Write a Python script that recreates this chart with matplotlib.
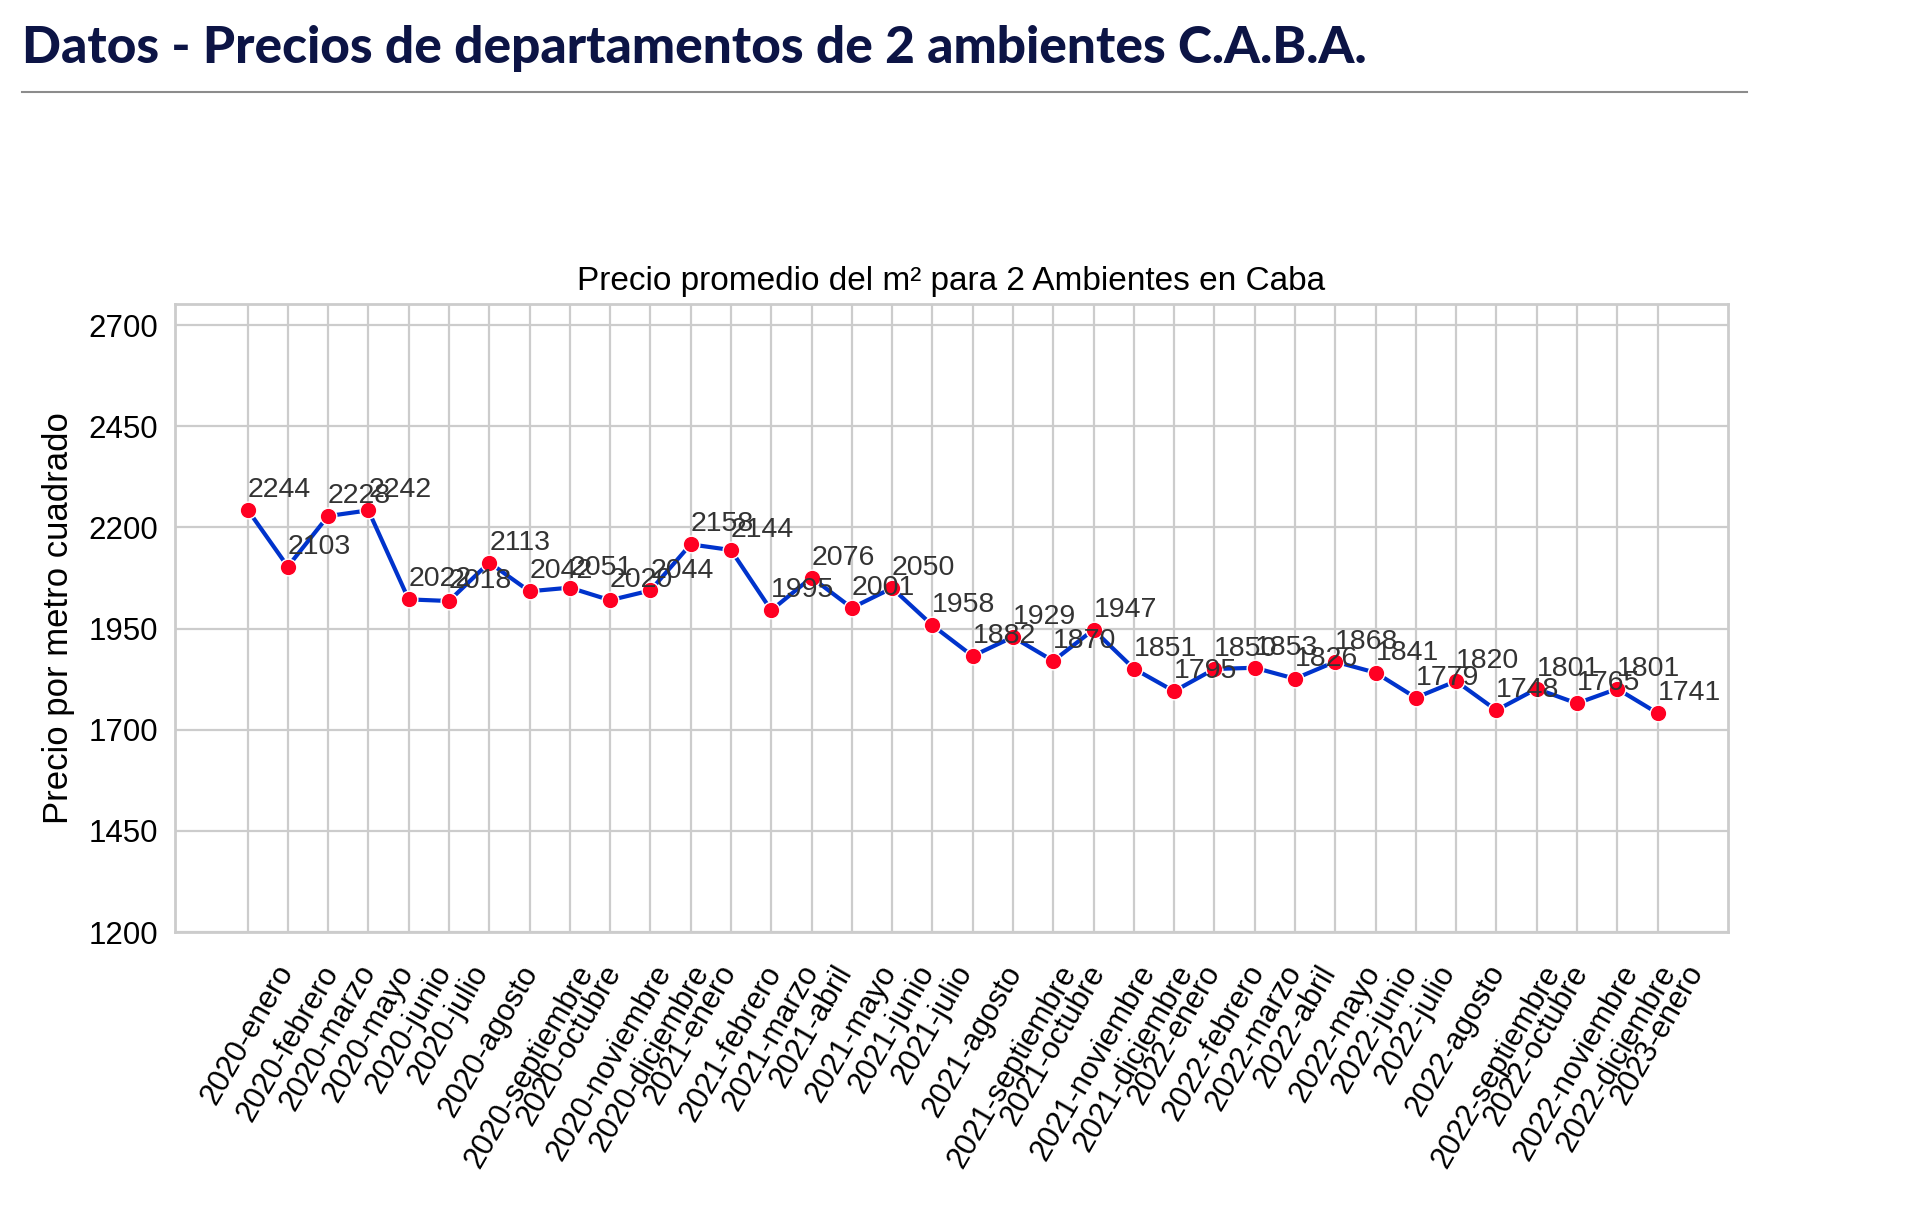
import matplotlib
matplotlib.use("Agg")
import matplotlib.pyplot as plt
from matplotlib.lines import Line2D

meses = ["2020-enero", "2020-febrero", "2020-marzo", "2020-mayo", "2020-junio",
         "2020-julio", "2020-agosto", "2020-septiembre", "2020-octubre",
         "2020-noviembre", "2020-diciembre", "2021-enero", "2021-febrero",
         "2021-marzo", "2021-abril", "2021-mayo", "2021-junio", "2021-julio",
         "2021-agosto", "2021-septiembre", "2021-octubre", "2021-noviembre",
         "2021-diciembre", "2022-enero", "2022-febrero", "2022-marzo",
         "2022-abril", "2022-mayo", "2022-junio", "2022-julio", "2022-agosto",
         "2022-septiembre", "2022-octubre", "2022-noviembre", "2022-diciembre",
         "2023-enero"]
precios = [2244, 2103, 2228, 2242, 2022, 2018, 2113, 2042, 2051, 2020, 2044,
           2158, 2144, 1995, 2076, 2001, 2050, 1958, 1882, 1929, 1870, 1947,
           1851, 1795, 1850, 1853, 1826, 1868, 1841, 1779, 1820, 1748, 1801,
           1765, 1801, 1741]
yticks = [1200, 1450, 1700, 1950, 2200, 2450, 2700]

plt.rcParams['font.family'] = ['Liberation Sans', 'DejaVu Sans']

fig = plt.figure(figsize=(19.2, 12.06), dpi=100)

# encabezado
fig.text(22 / 1920, 1 - 63 / 1206, "Datos - Precios de departamentos de 2 ambientes C.A.B.A.",
         fontsize=37, fontweight='black', family=['Lato', 'DejaVu Sans'], color='#0c1445',
         ha='left', va='baseline')
fig.add_artist(Line2D([22 / 1920, 1747 / 1920], [1 - 92 / 1206, 1 - 92 / 1206],
                      color='#8c8c8c', lw=1.5))

ax = fig.add_axes([175 / 1920, 1 - 932 / 1206, (1728 - 175) / 1920, (932 - 304) / 1206])
x = list(range(len(meses)))
ax.plot(x, precios, color='#0033cc', lw=3, marker='o', markersize=12,
        markerfacecolor='#ff0022', markeredgecolor='white', markeredgewidth=1, zorder=3)

for i, v in enumerate(precios):
    ax.text(i, v + 32, str(v), fontsize=20.5, color='#333333', ha='left', va='baseline', zorder=4)

ax.set_xlim(-1.8, len(meses) - 1 + 1.75)
ax.set_ylim(1200, 2752)
ax.set_yticks(yticks)
ax.set_xticks(x)
ax.set_xticklabels(meses, rotation=60, fontsize=22)
ax.tick_params(axis='y', labelsize=22.5, length=0, pad=12)
ax.tick_params(axis='x', length=0, pad=20)
ax.grid(True, color='#cccccc', lw=1.6)
ax.set_axisbelow(True)
for s in ax.spines.values():
    s.set_color('#cccccc')
    s.set_linewidth(2)

ax.set_title("Precio promedio del m² para 2 Ambientes en Caba", fontsize=24, pad=10)
ax.set_ylabel("Precio por metro cuadrado", fontsize=25, labelpad=10)

fig.savefig("out.png", dpi=100, facecolor='white')
